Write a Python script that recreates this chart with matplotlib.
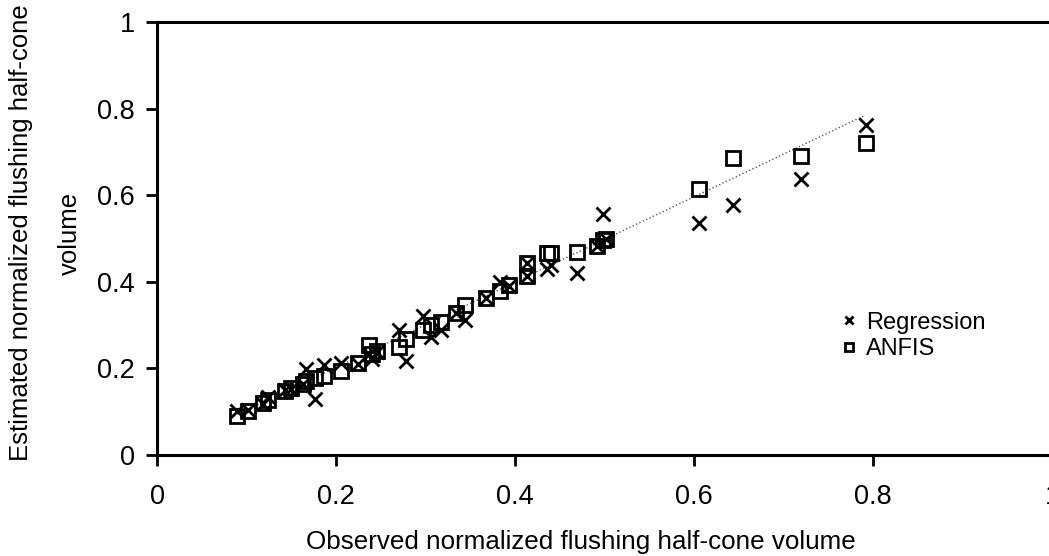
import numpy as np
import matplotlib
matplotlib.use('Agg')
import matplotlib.pyplot as plt

plt.rcParams['font.family'] = ['Liberation Sans', 'DejaVu Sans']

# Observed vs estimated normalized flushing half-cone volume
observed = [0.089, 0.102, 0.118, 0.124, 0.143, 0.150, 0.163, 0.166, 0.176, 0.187,
            0.205, 0.224, 0.237, 0.240, 0.246, 0.270, 0.278, 0.297, 0.306, 0.317,
            0.334, 0.344, 0.368, 0.383, 0.393, 0.413, 0.413, 0.436, 0.440, 0.469,
            0.491, 0.498, 0.502, 0.605, 0.644, 0.719, 0.792]
regression = [0.101, 0.104, 0.118, 0.135, 0.150, 0.152, 0.163, 0.199, 0.129, 0.207,
              0.212, 0.211, 0.234, 0.222, 0.238, 0.289, 0.217, 0.322, 0.273, 0.289,
              0.329, 0.312, 0.363, 0.400, 0.390, 0.443, 0.414, 0.429, 0.440, 0.420,
              0.482, 0.557, 0.500, 0.537, 0.577, 0.638, 0.763]
anfis = [0.090, 0.101, 0.120, 0.128, 0.148, 0.155, 0.165, 0.170, 0.178, 0.183,
         0.195, 0.213, 0.254, 0.234, 0.240, 0.250, 0.269, 0.289, 0.300, 0.308,
         0.329, 0.347, 0.363, 0.380, 0.393, 0.443, 0.414, 0.466, 0.466, 0.470,
         0.482, 0.497, 0.500, 0.615, 0.686, 0.691, 0.722]

# dotted trend line end points
trend_x = [0.086, 0.790]
trend_y = [0.090, 0.784]

ticks = [0, 0.2, 0.4, 0.6, 0.8, 1]
tick_labels = ['0', '0.2', '0.4', '0.6', '0.8', '1']

fig = plt.figure(figsize=(10.49, 5.56), dpi=100)
ax = fig.add_axes([0.1497, 0.1817, 0.8533, 0.7783])

ax.plot(trend_x, trend_y, linestyle=':', color='0.35', linewidth=1.0, zorder=1)
ax.plot(observed, regression, linestyle='none', marker='x', markersize=10.5,
        markeredgewidth=2, color='black', label='Regression', zorder=3)
ax.plot(observed, anfis, linestyle='none', marker='s', markersize=10.5,
        markeredgewidth=2, markeredgecolor='black', markerfacecolor='none',
        label='ANFIS', zorder=2)

ax.set_xlim(0, 1)
ax.set_ylim(0, 1)
ax.set_xticks(ticks)
ax.set_xticklabels(tick_labels)
ax.set_yticks(ticks)
ax.set_yticklabels(tick_labels)
ax.tick_params(axis='both', direction='out', length=8, width=2, labelsize=19.5)
ax.tick_params(axis='x', pad=13)
ax.tick_params(axis='y', pad=8)

for side in ['left', 'bottom', 'top']:
    ax.spines[side].set_linewidth(2.2)
ax.spines['right'].set_visible(False)

ax.set_xlabel('Observed normalized flushing half-cone volume', fontsize=18.7, labelpad=14)
ax.xaxis.label.set_x(0.473)
ax.set_ylabel('Estimated normalized flushing half-cone\nvolume', fontsize=18.5,
              linespacing=2.3, labelpad=11)
ax.yaxis.label.set_y(0.513)

ax.legend(loc='upper left', bbox_to_anchor=(0.755, 0.353), frameon=False,
          fontsize=17, markerscale=0.6, handlelength=0.6, handletextpad=0.4,
          labelspacing=0.2, borderaxespad=0)

fig.savefig('out.png', dpi=100)
